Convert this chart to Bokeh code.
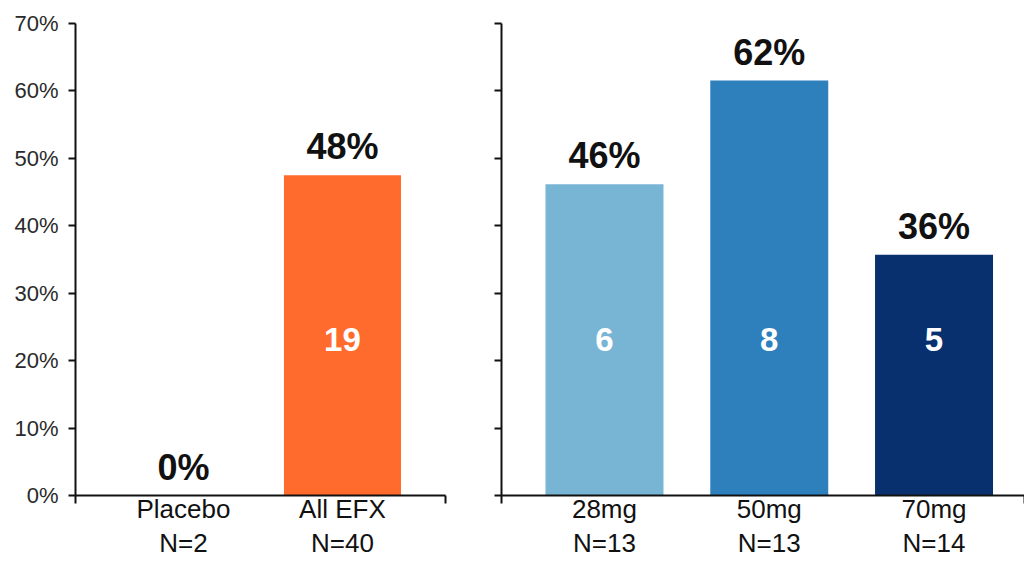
from bokeh.plotting import figure
from bokeh.layouts import row
from bokeh.models import Range1d, FixedTicker, ColumnDataSource, LabelSet
from bokeh.core.properties import value
from bokeh.embed import file_html
from bokeh.resources import INLINE

# Responder rates by arm
left_groups = ["Placebo", "All EFX"]
left_n = [2, 40]
left_responders = [0, 19]
left_colors = ["#FF6B2C", "#FF6B2C"]

right_groups = ["28mg", "50mg", "70mg"]
right_n = [13, 13, 14]
right_responders = [6, 8, 5]
right_colors = ["#78B4D4", "#2E80BC", "#08306E"]

y_ticks = [0, 10, 20, 30, 40, 50, 60, 70]
y_tick_labels = [f"{t}%" for t in y_ticks]

FONT = "Liberation Sans"
INNER_LABEL_LEVEL = 21.5  # height (in %) of the count printed inside each bar


def make_panel(groups, n, responders, colors, x_start, x_end, bar_width,
               width, border_left, border_right, show_y_labels):
    pct = [r / t * 100 for r, t in zip(responders, n)]
    xs = list(range(len(groups)))
    src = ColumnDataSource(dict(
        x=xs,
        pct=pct,
        color=colors,
        pct_label=[f"{int(v + 0.5)}%" for v in pct],
        inner_y=[INNER_LABEL_LEVEL] * len(groups),
        inner_label=[str(r) if r > 0 else "" for r in responders],
    ))

    p = figure(width=width, height=561, output_backend="svg",
               toolbar_location=None,
               x_range=Range1d(x_start, x_end), y_range=Range1d(0, 70),
               min_border_left=border_left, min_border_right=border_right,
               min_border_top=23, min_border_bottom=66)
    p.outline_line_color = None
    p.grid.visible = False
    p.background_fill_color = "white"
    p.border_fill_color = "white"

    p.vbar(x="x", top="pct", width=bar_width, bottom=0, source=src,
           fill_color="color", line_color=None)

    # y axis
    ya = p.yaxis[0]
    ya.ticker = FixedTicker(ticks=y_ticks, minor_ticks=[])
    if show_y_labels:
        ya.major_label_overrides = {t: l for t, l in zip(y_ticks, y_tick_labels)}
    else:
        ya.major_label_overrides = {t: "" for t in y_ticks}
    ya.axis_line_width = 2
    ya.axis_line_color = "#111111"
    ya.major_tick_line_width = 2
    ya.major_tick_line_color = "#111111"
    ya.major_tick_out = 7
    ya.major_tick_in = 0
    ya.major_label_standoff = 10
    ya.major_label_text_font = FONT
    ya.major_label_text_font_size = "22px"
    ya.major_label_text_color = "#2a2a2a"

    # x axis: category name and sample size at each bar, short ticks at the ends
    xa = p.xaxis[0]
    xa.ticker = FixedTicker(ticks=xs, minor_ticks=[x_start, x_end])
    xa.major_label_overrides = {x: f"{g}\nN={t}" for x, g, t in zip(xs, groups, n)}
    xa.axis_line_width = 2
    xa.axis_line_color = "#111111"
    xa.major_tick_out = 0
    xa.major_tick_in = 0
    xa.major_tick_line_color = None
    xa.minor_tick_out = 8
    xa.minor_tick_in = 0
    xa.minor_tick_line_width = 2
    xa.minor_tick_line_color = "#111111"
    xa.major_label_standoff = -10
    xa.major_label_text_font = FONT
    xa.major_label_text_font_size = "26px"
    xa.major_label_text_line_height = 1.15
    xa.major_label_text_color = "#111111"

    # percentage above each bar, responder count inside
    p.add_layout(LabelSet(x="x", y="pct", text="pct_label", source=src,
                          text_align="center", text_baseline="alphabetic",
                          y_offset=16, text_font=value(FONT),
                          text_font_size=value("36px"), text_font_style="bold",
                          text_color="#111111"))
    p.add_layout(LabelSet(x="x", y="inner_y", text="inner_label", source=src,
                          text_align="center", text_baseline="alphabetic",
                          text_font=value(FONT), text_font_size=value("33px"),
                          text_font_style="bold", text_color="white"))
    return p


left = make_panel(left_groups, left_n, left_responders, left_colors,
                  x_start=-0.679, x_end=1.648, bar_width=0.736,
                  width=471, border_left=75, border_right=26, show_y_labels=True)
right = make_panel(right_groups, right_n, right_responders, right_colors,
                   x_start=-0.625, x_end=2.549, bar_width=0.716,
                   width=553, border_left=30, border_right=0, show_y_labels=False)

layout = row(left, right)
open("out.html", "w").write(file_html(layout, INLINE))
